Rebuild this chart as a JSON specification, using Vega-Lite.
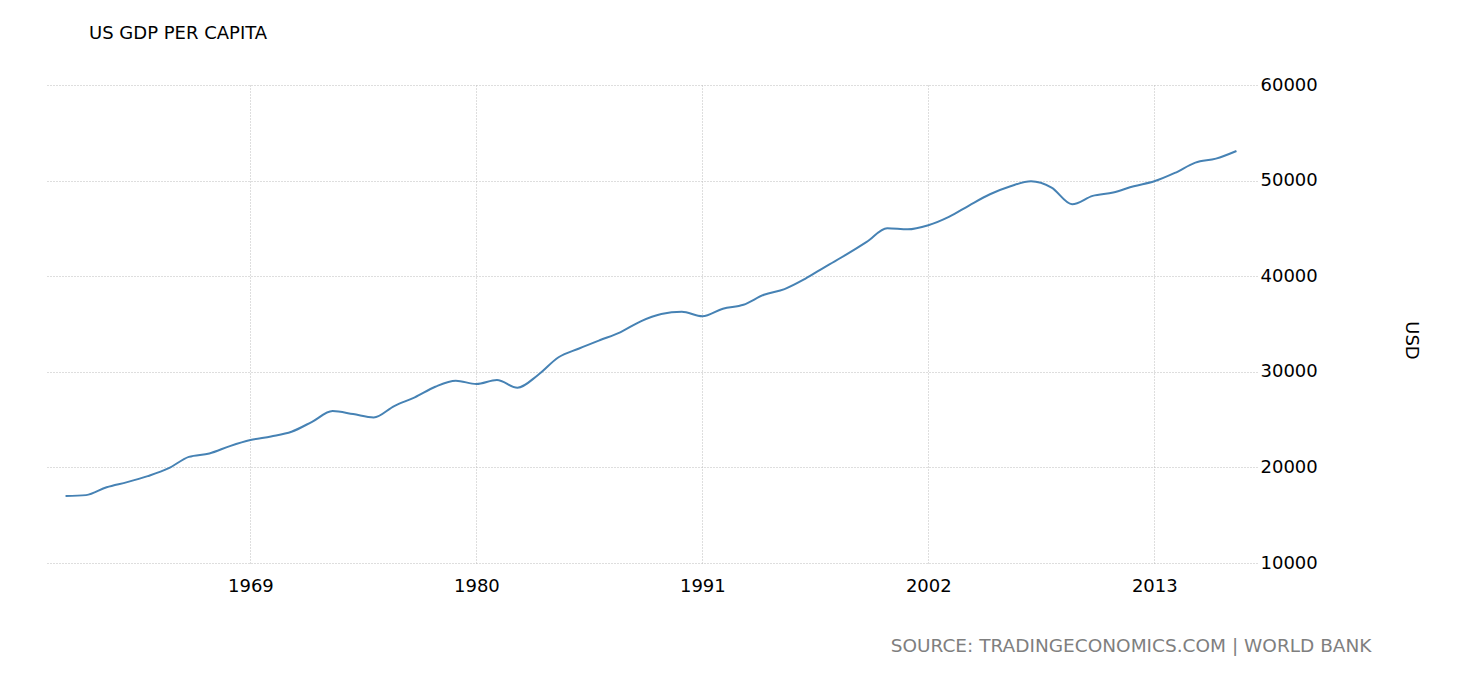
{
  "$schema": "https://vega.github.io/schema/vega-lite/v6.json",
  "autosize": "none",
  "width": 1212,
  "height": 478,
  "padding": {"left": 45, "top": 85, "right": 203, "bottom": 117},
  "background": "white",
  "title": {
    "text": "US GDP PER CAPITA",
    "anchor": "start",
    "dx": 44,
    "offset": 33,
    "fontSize": 18,
    "fontWeight": "normal",
    "font": "DejaVu Sans",
    "color": "#000000"
  },
  "config": {
    "view": {"stroke": null},
    "font": "DejaVu Sans"
  },
  "data": {
    "values": [
      {"year": 1960, "gdp": 17000},
      {"year": 1961, "gdp": 17100},
      {"year": 1962, "gdp": 17930},
      {"year": 1963, "gdp": 18460},
      {"year": 1964, "gdp": 19090},
      {"year": 1965, "gdp": 19890},
      {"year": 1966, "gdp": 21100},
      {"year": 1967, "gdp": 21460},
      {"year": 1968, "gdp": 22230},
      {"year": 1969, "gdp": 22860},
      {"year": 1970, "gdp": 23240},
      {"year": 1971, "gdp": 23730},
      {"year": 1972, "gdp": 24770},
      {"year": 1973, "gdp": 25890},
      {"year": 1974, "gdp": 25580},
      {"year": 1975, "gdp": 25230},
      {"year": 1976, "gdp": 26420},
      {"year": 1977, "gdp": 27330},
      {"year": 1978, "gdp": 28440},
      {"year": 1979, "gdp": 29070},
      {"year": 1980, "gdp": 28720},
      {"year": 1981, "gdp": 29140},
      {"year": 1982, "gdp": 28340},
      {"year": 1983, "gdp": 29670},
      {"year": 1984, "gdp": 31520},
      {"year": 1985, "gdp": 32440},
      {"year": 1986, "gdp": 33300},
      {"year": 1987, "gdp": 34130},
      {"year": 1988, "gdp": 35280},
      {"year": 1989, "gdp": 36040},
      {"year": 1990, "gdp": 36280},
      {"year": 1991, "gdp": 35800},
      {"year": 1992, "gdp": 36600},
      {"year": 1993, "gdp": 37010},
      {"year": 1994, "gdp": 38060},
      {"year": 1995, "gdp": 38650},
      {"year": 1996, "gdp": 39720},
      {"year": 1997, "gdp": 41010},
      {"year": 1998, "gdp": 42250},
      {"year": 1999, "gdp": 43590},
      {"year": 2000, "gdp": 45020},
      {"year": 2001, "gdp": 44900},
      {"year": 2002, "gdp": 45330},
      {"year": 2003, "gdp": 46200},
      {"year": 2004, "gdp": 47420},
      {"year": 2005, "gdp": 48570},
      {"year": 2006, "gdp": 49410},
      {"year": 2007, "gdp": 49930},
      {"year": 2008, "gdp": 49270},
      {"year": 2009, "gdp": 47530},
      {"year": 2010, "gdp": 48400},
      {"year": 2011, "gdp": 48750},
      {"year": 2012, "gdp": 49410},
      {"year": 2013, "gdp": 49930},
      {"year": 2014, "gdp": 50800},
      {"year": 2015, "gdp": 51880},
      {"year": 2016, "gdp": 52300},
      {"year": 2017, "gdp": 53100}
    ]
  },
  "mark": {"type": "line", "color": "#4682b4", "strokeWidth": 2, "interpolate": "monotone"},
  "encoding": {
    "x": {
      "field": "year",
      "type": "quantitative",
      "scale": {"domain": [1959, 2018], "nice": false, "zero": false},
      "axis": {
        "values": [1969, 1980, 1991, 2002, 2013],
        "format": "d",
        "domain": false,
        "ticks": false,
        "labelFontSize": 18,
        "labelColor": "#000000",
        "labelPadding": 14,
        "grid": true,
        "gridColor": "#bdbdbd",
        "gridDash": [1, 2],
        "gridWidth": 1,
        "title": "SOURCE: TRADINGECONOMICS.COM | WORLD BANK",
        "titleFontSize": 18.5,
        "titleFontWeight": "normal",
        "titleColor": "#7f7f7f",
        "titleAnchor": "end",
        "titleAlign": "right",
        "titleX": 1326,
        "titleY": 88,
        "titleBaseline": "alphabetic"
      }
    },
    "y": {
      "field": "gdp",
      "type": "quantitative",
      "scale": {"domain": [10000, 60000], "nice": false, "zero": false},
      "axis": {
        "orient": "right",
        "values": [10000, 20000, 30000, 40000, 50000, 60000],
        "format": "d",
        "domain": false,
        "ticks": false,
        "labelFontSize": 18,
        "labelColor": "#000000",
        "labelPadding": 3,
        "grid": true,
        "gridColor": "#bdbdbd",
        "gridDash": [1, 2],
        "gridWidth": 1,
        "title": "USD",
        "titleFontSize": 18,
        "titleFontWeight": "normal",
        "titleColor": "#000000",
        "titleAngle": 90,
        "titleX": 153,
        "titleY": 255,
        "titleBaseline": "middle",
        "titleAlign": "center"
      }
    }
  }
}
